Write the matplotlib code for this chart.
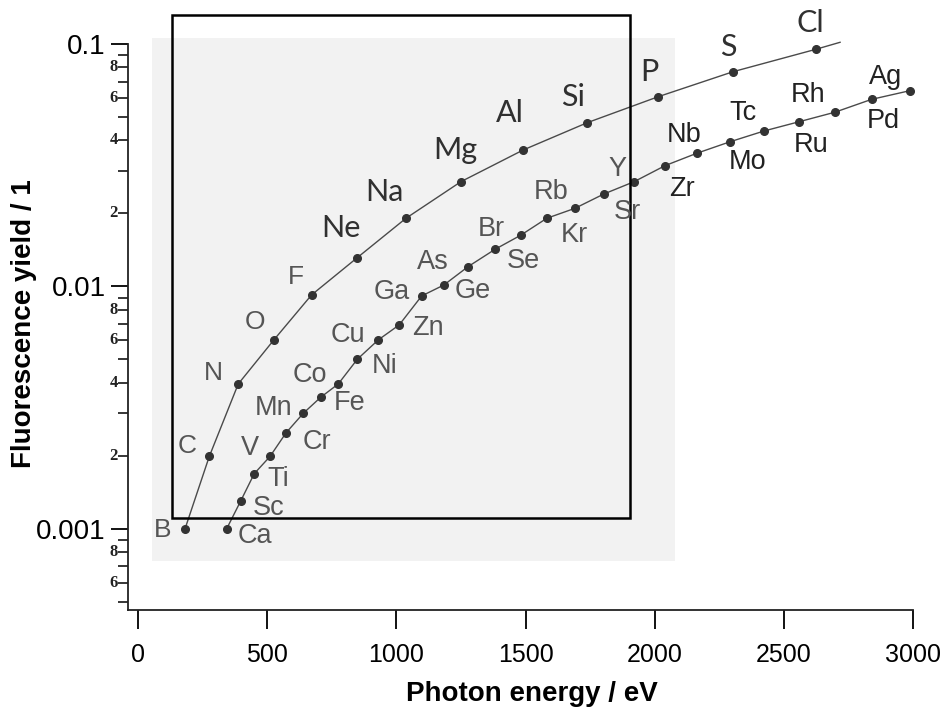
import numpy as np
import matplotlib
matplotlib.use("Agg")
import matplotlib.pyplot as plt
from matplotlib.patches import Rectangle
from matplotlib.ticker import FixedLocator, NullFormatter

# K-shell series (B .. Cl)
k_elem = ["B", "C", "N", "O", "F", "Ne", "Na", "Mg", "Al", "Si", "P", "S", "Cl"]
k_energy = [182, 276, 388, 526, 672, 849, 1037, 1250, 1491, 1739, 2014, 2304, 2624]
k_yield = [0.00100, 0.00199, 0.00396, 0.00602, 0.00923, 0.01315, 0.0191,
           0.02705, 0.03655, 0.04737, 0.06064, 0.0769, 0.0951]
k_tail = (2717, 0.1016)  # curve continues a bit past Cl, no marker

# L-shell series (Ca .. Ag)
l_elem = ["Ca", "Sc", "Ti", "V", "Cr", "Mn", "Fe", "Co", "Ni", "Cu", "Zn", "Ga",
          "Ge", "As", "Se", "Br", "Kr", "Rb", "Sr", "Y", "Zr", "Nb", "Mo", "Tc",
          "Ru", "Rh", "Pd", "Ag"]
l_energy = [343, 397, 450, 511, 573, 640, 707, 775, 849, 930, 1011, 1098,
            1184, 1278, 1382, 1481, 1582, 1691, 1803, 1920, 2040, 2162, 2291,
            2424, 2559, 2697, 2839, 2988]
l_yield = [0.00100, 0.00130, 0.00169, 0.00199, 0.00249, 0.00300, 0.00349,
           0.00396, 0.00501, 0.00602, 0.00694, 0.00914, 0.01014, 0.01208,
           0.01423, 0.01626, 0.0191, 0.0210, 0.02406, 0.02704, 0.0315, 0.0354,
           0.0395, 0.0438, 0.0478, 0.0523, 0.0591, 0.0642]

shade_x, shade_y = (54, 2078), (0.000738, 0.1059)
box_x, box_y = (132, 1904), (0.00111, 0.1318)

# label offsets in pixels (dx right, dy down) from each marker
k_off = {"B": (-22, 1), "C": (-22, -10), "N": (-25, -11), "O": (-19, -18),
         "F": (-16, -18), "Ne": (-16, -30), "Na": (-21, -26), "Mg": (-6, -32),
         "Al": (-13, -37), "Si": (-14, -26), "P": (-9, -25), "S": (-5, -25),
         "Cl": (-6, -26)}
l_off = {"Ca": (28, 7), "Sc": (28, 7), "Ti": (24, 5), "V": (-20, -8),
         "Cr": (31, 9), "Mn": (-30, -5), "Fe": (29, 6), "Co": (-28, -9),
         "Ni": (27, 7), "Cu": (-30, -5), "Zn": (29, 3), "Ga": (-30, -4),
         "Ge": (29, 6), "As": (-35, -5), "Se": (28, 12), "Br": (-29, -6),
         "Kr": (28, 17), "Rb": (-24, -16), "Sr": (23, 18), "Y": (-17, -13),
         "Zr": (17, 23), "Nb": (-13, -18), "Mo": (18, 20), "Tc": (-21, -18),
         "Ru": (12, 23), "Rh": (-27, -17), "Pd": (12, 22), "Ag": (-25, -14)}

fig = plt.figure(figsize=(9.45, 7.09), dpi=100)
ax = fig.add_axes([0.1354, 0.1396, 0.8646, 0.8604])
ax.set_yscale("log")
ax.set_xlim(-38.7, 3123)
ax.set_ylim(0.000463, 0.1518)

ax.add_patch(Rectangle((shade_x[0], shade_y[0]), shade_x[1] - shade_x[0],
                       shade_y[1] - shade_y[0], facecolor="#f2f2f2",
                       edgecolor="none", zorder=0))

ax.plot(k_energy + [k_tail[0]], k_yield + [k_tail[1]], color="#4a4a4a",
        lw=1.0, zorder=2)
ax.plot(k_energy, k_yield, ls="none", marker="o", ms=5.5, color="#333333",
        zorder=3)
ax.plot(l_energy, l_yield, color="#4a4a4a", lw=1.0, marker="o", ms=5.5,
        mfc="#333333", mec="#333333", zorder=3)

ax.add_patch(Rectangle((box_x[0], box_y[0]), box_x[1] - box_x[0],
                       box_y[1] - box_y[0], facecolor="none",
                       edgecolor="black", lw=1.8, zorder=4))

big_k = {"Ne", "Na", "Mg", "Al", "Si", "P", "S", "Cl"}
for el, x, y in zip(k_elem, k_energy, k_yield):
    dx, dy = k_off[el]
    if el in big_k:
        kw = dict(family="Lato", fontsize=22, color="#303030")
    else:
        kw = dict(family="Liberation Sans", fontsize=19, color="#555555")
    ax.annotate(el, (x, y), xytext=(dx, -dy), textcoords="offset pixels",
                ha="center", va="center", zorder=5, **kw)

dark_l = {"Zr", "Nb", "Mo", "Tc", "Ru", "Rh", "Pd", "Ag"}
for el, x, y in zip(l_elem, l_energy, l_yield):
    dx, dy = l_off[el]
    col = "#222222" if el in dark_l else "#555555"
    ax.annotate(el, (x, y), xytext=(dx, -dy), textcoords="offset pixels",
                ha="center", va="center", family="Liberation Sans",
                fontsize=19.5, color=col, zorder=5)

# axes styling
for s in ("top", "right"):
    ax.spines[s].set_visible(False)
ax.spines["left"].set_bounds(0.000463, 0.1)
ax.spines["bottom"].set_bounds(-38.7, 3000)
for s in ("left", "bottom"):
    ax.spines[s].set_linewidth(1.3)
    ax.spines[s].set_color("#222222")

ax.set_xticks([0, 500, 1000, 1500, 2000, 2500, 3000])
ax.tick_params(axis="x", direction="out", length=14, width=1.3, pad=10,
               labelsize=18)
for t in ax.get_xticklabels():
    t.set_family("Liberation Sans")

ax.yaxis.set_major_locator(FixedLocator([0.001, 0.01, 0.1]))
ax.set_yticklabels(["0.001", "0.01", "0.1"])
minor = [m * 10.0 ** e for e in (-4, -3, -2) for m in range(2, 10)]
minor = [v for v in minor if 0.00046 <= v < 0.1]
ax.yaxis.set_minor_locator(FixedLocator(minor))
ax.yaxis.set_minor_formatter(NullFormatter())
ax.tick_params(axis="y", which="major", direction="out", length=12, width=1.3,
               labelsize=20, pad=4)
ax.tick_params(axis="y", which="minor", direction="out", length=7, width=1.1)
for t in ax.get_yticklabels():
    t.set_family("Liberation Sans")
for v in minor:
    m = round(v / 10 ** np.floor(np.log10(v)))
    if m in (2, 4, 6, 8):
        ax.annotate(str(m), (0, v), xycoords=("axes fraction", "data"),
                    xytext=(-10, 0), textcoords="offset pixels", ha="right",
                    va="center", fontsize=12, fontweight="bold",
                    family="Liberation Serif", color="#222222")

ax.set_xlabel("Photon energy / eV", family="Liberation Sans", fontsize=20,
              fontweight="bold")
ax.xaxis.set_label_coords(0.4945, -0.116)
ax.set_ylabel("Fluorescence yield / 1", family="Liberation Sans", fontsize=20,
              fontweight="bold")
ax.yaxis.set_label_coords(-0.111, 0.47)

fig.savefig("out.png", dpi=100)
